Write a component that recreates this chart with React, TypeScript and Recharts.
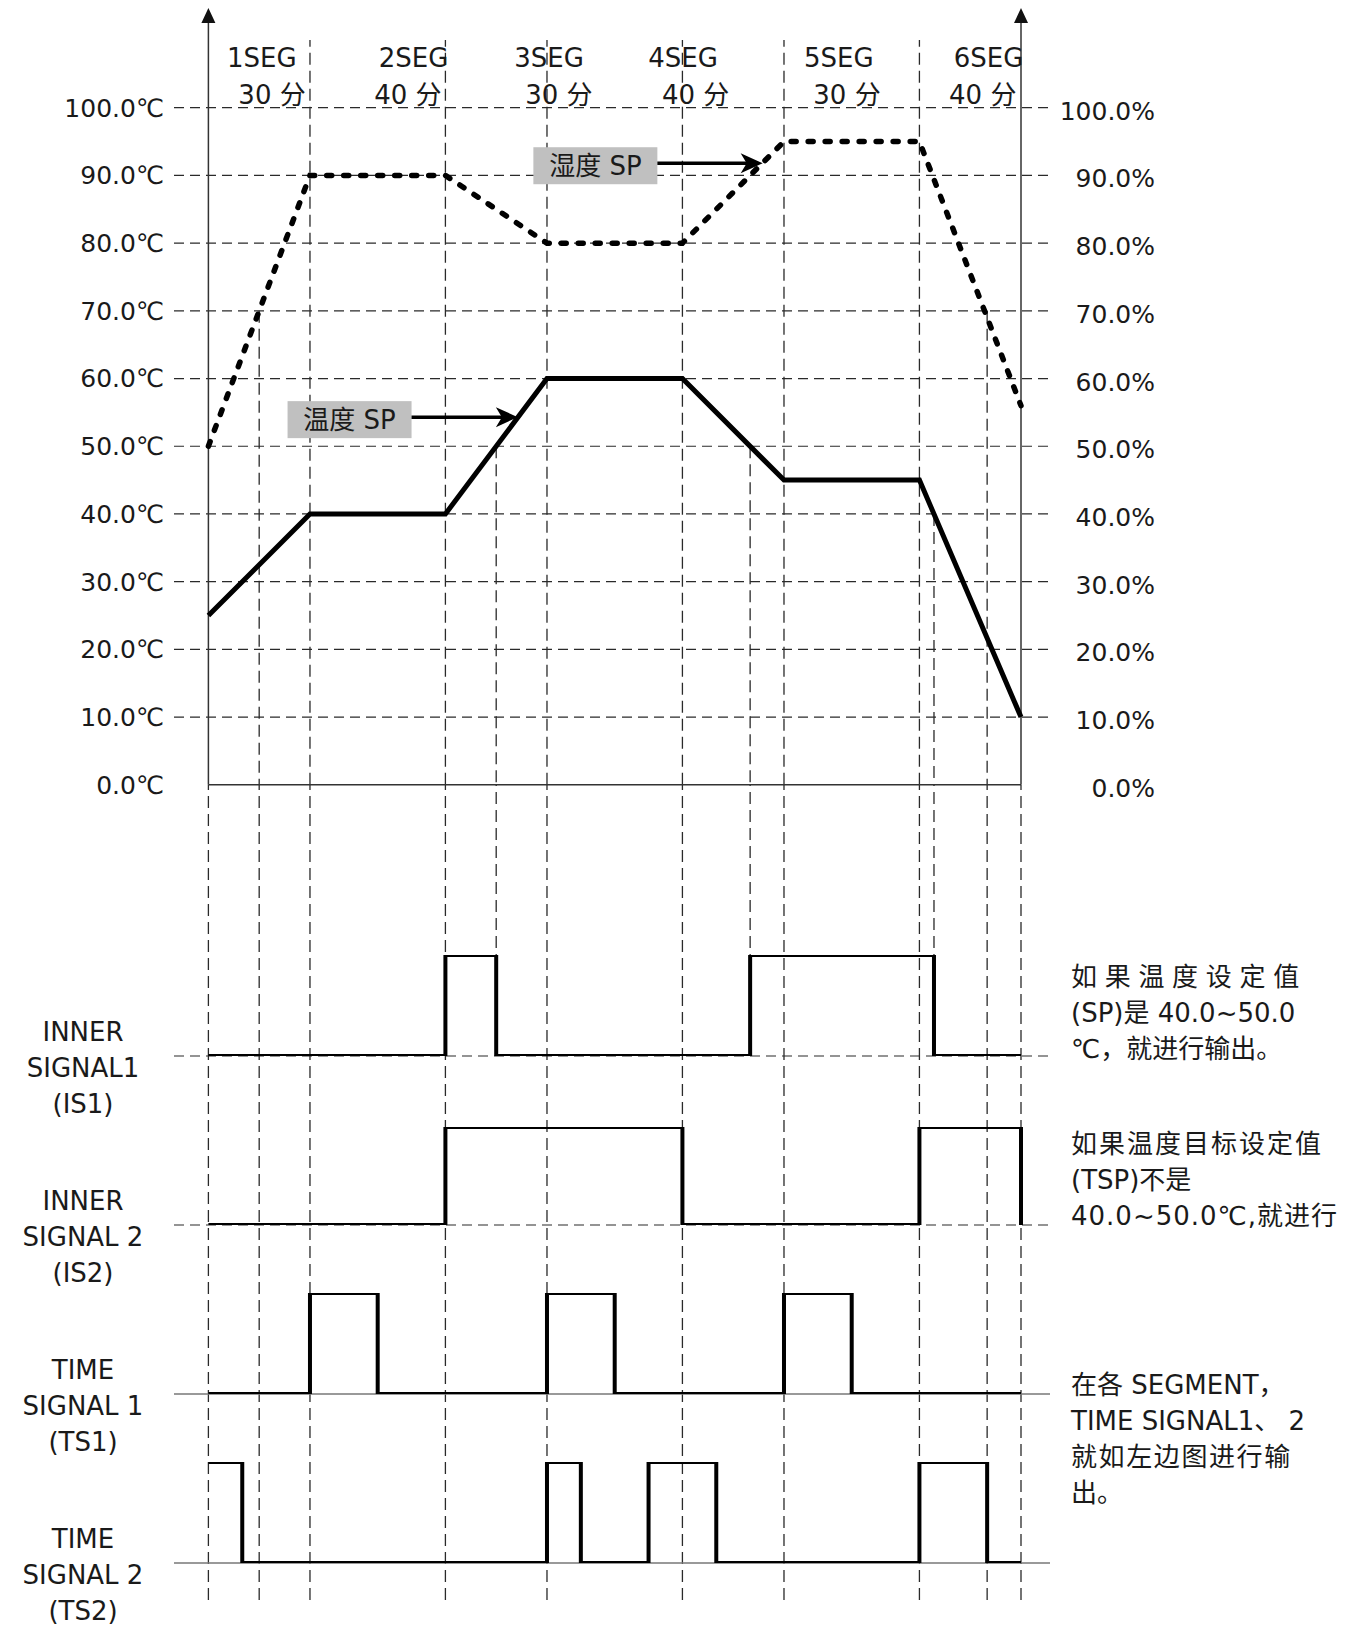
import {
  ComposedChart,
  Line,
  XAxis,
  YAxis,
  ReferenceLine,
  ReferenceDot,
} from 'recharts'

// program profile (minutes from start)
const TIME = [0, 30, 70, 100, 140, 170, 210, 240]
const TEMP_SP = [25, 40, 40, 60, 60, 45, 45, 10]
const HUMI_SP = [50, 90, 90, 80, 80, 95, 95, 56]

const SEG_NAMES = ['1SEG', '2SEG', '3SEG', '4SEG', '5SEG', '6SEG']
const SEG_MINUTES = [30, 40, 30, 40, 30, 40]

const AXIS_TICKS = [0, 10, 20, 30, 40, 50, 60, 70, 80, 90, 100]

// digital signals: time of each edge and the level after it
const IS1_T = [0, 70, 85, 160, 214.3, 240]
const IS1_V = [0, 1, 0, 1, 0, 0]
const IS2_T = [0, 70, 140, 210, 240]
const IS2_V = [0, 1, 0, 1, 0]
const TS1_T = [0, 30, 50, 100, 120, 170, 190, 240]
const TS1_V = [0, 1, 0, 1, 0, 1, 0, 0]
const TS2_T = [0, 10, 100, 110, 130, 150, 210, 230, 240]
const TS2_V = [1, 0, 1, 0, 1, 0, 1, 0, 0]

const SIGNAL_NAMES = [
  ['INNER', 'SIGNAL1', '(IS1)'],
  ['INNER', 'SIGNAL 2', '(IS2)'],
  ['TIME', 'SIGNAL 1', '(TS1)'],
  ['TIME', 'SIGNAL 2', '(TS2)'],
]

const NOTE_1 = ['如果温度设定值', '(SP)是 40.0~50.0', '℃，就进行输出。']
const NOTE_2 = ['如果温度目标设定值', '(TSP)不是', '40.0~50.0℃,就进行']
const NOTE_3 = ['在各 SEGMENT，', 'TIME SIGNAL1、 2', '就如左边图进行输', '出。']

// ---- layout ----
const W = 1358
const FONT = '"DejaVu Sans", "Noto Sans CJK SC", sans-serif'
const INK = '#1a1a1a'
const GRID = '#2a2a2a'
const X_PAD = { left: 34.4, right: 29 }
const TOP_H = 830
const LOW_TOP = 785
const LOW_H = 815

// where the header texts sit (minutes)
const SEG_NAME_AT = [15.8, 60.6, 100.6, 140.2, 186.2, 230.4]
const SEG_TIME_AT = [18.8, 58.9, 103.5, 143.9, 188.6, 228.7]

const ROWS = [
  { id: 'is1', t: IS1_T, v: IS1_V, high: 955, base: 1056, dashed: true },
  { id: 'is2', t: IS2_T, v: IS2_V, high: 1127, base: 1225, dashed: true },
  { id: 'ts1', t: TS1_T, v: TS1_V, high: 1293, base: 1394, dashed: false },
  { id: 'ts2', t: TS2_T, v: TS2_V, high: 1462, base: 1563, dashed: false },
]

const segBounds = SEG_MINUTES.reduce<number[]>((acc, m) => {
  acc.push((acc.length ? acc[acc.length - 1] : 0) + m)
  return acc
}, [])

// secondary markers: where a profile line crosses a threshold
const EVENTS_UPPER = [
  { t: 15, y: 70 },
  { t: 85, y: 50 },
  { t: 160, y: 50 },
  { t: 214.3, y: 40 },
  { t: 230, y: 70 },
]
const FULL_LOWER = [0, 15, ...segBounds, 230, 240]
const IS1_ONLY = [85, 160, 214.3]

const profileData = TIME.map((t, i) => ({ t, temp: TEMP_SP[i], humi: HUMI_SP[i] }))

function AxisArrow(p: any) {
  const x = p.x1
  const yb = Math.max(p.y1, p.y2)
  const yt = Math.min(p.y1, p.y2) - 32
  return (
    <g>
      <line x1={x} y1={yb} x2={x} y2={yt + 10} stroke="#333" strokeWidth={1.5} />
      <polygon points={`${x},${yt} ${x - 7},${yt + 15} ${x + 7},${yt + 15}`} fill="#111" />
    </g>
  )
}

function callout(text: string) {
  return (p: any) => {
    const { x1, y1, x2 } = p
    return (
      <g>
        <rect x={x1 - 124} y={y1 - 16} width={124} height={37} fill="#c0c0c0" />
        <text
          x={x1 - 62}
          y={y1 + 3}
          textAnchor="middle"
          dominantBaseline="central"
          fontSize={26}
          fontFamily={FONT}
          fill={INK}
        >
          {text}
        </text>
        <line x1={x1} y1={y1} x2={x2 - 14} y2={y1} stroke="#000" strokeWidth={3.5} />
        <polygon
          points={`${x2},${y1} ${x2 - 22},${y1 - 10} ${x2 - 16},${y1} ${x2 - 22},${y1 + 10}`}
          fill="#000"
        />
      </g>
    )
  }
}

function headerText(text: string) {
  return (p: any) => (
    <text
      x={p.cx}
      y={p.cy}
      textAnchor="middle"
      dominantBaseline="central"
      fontSize={26}
      fontFamily={FONT}
      fill={INK}
    >
      {text}
    </text>
  )
}

function RightTick(p: any) {
  return (
    <text x={p.x + 105} y={p.y + 3} dy="0.36em" textAnchor="end" fontSize={25} fontFamily={FONT} fill={INK}>
      {`${Number(p.payload.value).toFixed(1)}%`}
    </text>
  )
}

function TextBlock({ lines, top, left, width, align, spacing, lh }: {
  lines: string[]
  top: number
  left: number
  width: number
  align: 'left' | 'center'
  spacing?: number[]
  lh: number
}) {
  return (
    <div
      style={{
        position: 'absolute',
        top,
        left,
        width,
        textAlign: align,
        fontFamily: FONT,
        fontSize: 26,
        lineHeight: `${lh}px`,
        color: INK,
        whiteSpace: 'nowrap',
      }}
    >
      {lines.map((l, i) => (
        <div key={i} style={{ letterSpacing: spacing ? spacing[i] : 0 }}>{l}</div>
      ))}
    </div>
  )
}

export default function App() {
  return (
    <div style={{ position: 'absolute', left: 0, top: 0, width: W, height: 1625, background: '#fff' }}>
      {/* upper: temperature / humidity programme */}
      <div style={{ position: 'absolute', left: 0, top: 0 }}>
        <ComposedChart width={W} height={TOP_H} data={profileData} margin={{ top: 40, right: 0, bottom: TOP_H - 784.8, left: 0 }}>
          <XAxis dataKey="t" type="number" domain={[0, 240]} hide padding={X_PAD} />
          <YAxis
            yAxisId="t"
            orientation="left"
            width={174}
            domain={[0, 110]}
            allowDataOverflow
            ticks={AXIS_TICKS}
            interval={0}
            axisLine={false}
            tickLine={false}
            tickSize={0}
            tickMargin={10}
            tick={{ fill: INK, fontSize: 25, fontFamily: FONT }}
            tickFormatter={(v: number) => `${v.toFixed(1)}℃`}
          />
          <YAxis
            yAxisId="h"
            orientation="right"
            width={308}
            domain={[0, 110]}
            allowDataOverflow
            ticks={AXIS_TICKS}
            interval={0}
            axisLine={false}
            tickLine={false}
            tickSize={0}
            tickMargin={0}
            tick={RightTick}
          />

          {AXIS_TICKS.filter((v) => v > 0).map((v) => (
            <ReferenceLine key={`g${v}`} yAxisId="t" y={v} stroke={GRID} strokeWidth={1.2} strokeDasharray="10 6" />
          ))}
          {segBounds.map((t) => (
            <ReferenceLine key={`s${t}`} yAxisId="t" x={t} stroke={GRID} strokeWidth={1.3} strokeDasharray="12 6" />
          ))}
          {EVENTS_UPPER.map((e) => (
            <ReferenceLine
              key={`e${e.t}`}
              yAxisId="t"
              segment={[{ x: e.t, y: e.y }, { x: e.t, y: 0 }]}
              stroke={GRID}
              strokeWidth={1.3}
              strokeDasharray="12 6"
            />
          ))}

          <ReferenceLine yAxisId="t" segment={[{ x: 0, y: 0 }, { x: 240, y: 0 }]} stroke="#333" strokeWidth={1.5} />
          <ReferenceLine yAxisId="t" segment={[{ x: 0, y: 0 }, { x: 0, y: 110 }]} shape={AxisArrow} />
          <ReferenceLine yAxisId="t" segment={[{ x: 240, y: 0 }, { x: 240, y: 110 }]} shape={AxisArrow} />

          {SEG_NAMES.map((n, i) => (
            <ReferenceDot key={n} yAxisId="t" x={SEG_NAME_AT[i]} y={107.3} r={0} shape={headerText(n)} />
          ))}
          {SEG_MINUTES.map((m, i) => (
            <ReferenceDot key={`m${i}`} yAxisId="t" x={SEG_TIME_AT[i]} y={101.9} r={0} shape={headerText(`${m} 分`)} />
          ))}

          <Line
            yAxisId="h"
            dataKey="humi"
            stroke="#000"
            strokeWidth={5.5}
            strokeDasharray="5 12"
            strokeLinecap="round"
            dot={false}
            isAnimationActive={false}
          />
          <Line
            yAxisId="t"
            dataKey="temp"
            stroke="#000"
            strokeWidth={5}
            dot={false}
            isAnimationActive={false}
          />

          <ReferenceLine yAxisId="t" segment={[{ x: 132.6, y: 91.8 }, { x: 163.7, y: 91.8 }]} shape={callout('湿度 SP')} />
          <ReferenceLine yAxisId="t" segment={[{ x: 60, y: 54.3 }, { x: 91.4, y: 54.3 }]} shape={callout('温度 SP')} />
        </ComposedChart>
      </div>

      {/* lower: signal timing */}
      <div style={{ position: 'absolute', left: 0, top: LOW_TOP }}>
        <ComposedChart width={W} height={LOW_H} margin={{ top: 0, right: 308, bottom: 0, left: 174 }}>
          <XAxis dataKey="t" type="number" domain={[0, 240]} hide padding={X_PAD} />
          {ROWS.map((r) => (
            <YAxis
              key={r.id}
              yAxisId={r.id}
              hide
              domain={[0, 1]}
              allowDataOverflow
              padding={{ top: r.high - LOW_TOP, bottom: LOW_TOP + LOW_H - r.base }}
            />
          ))}

          {FULL_LOWER.map((t) => (
            <ReferenceLine key={`f${t}`} yAxisId="is1" x={t} stroke={GRID} strokeWidth={1.3} strokeDasharray="12 6" />
          ))}
          {IS1_ONLY.map((t) => (
            <ReferenceLine
              key={`o${t}`}
              yAxisId="is1"
              segment={[{ x: t, y: 0 }, { x: t, y: 10 }]}
              ifOverflow="hidden"
              stroke={GRID}
              strokeWidth={1.3}
              strokeDasharray="12 6"
            />
          ))}
          {ROWS.map((r) => (
            <ReferenceLine
              key={`b${r.id}`}
              yAxisId={r.id}
              y={0}
              stroke={r.dashed ? GRID : '#777'}
              strokeWidth={r.dashed ? 1.2 : 1.5}
              strokeDasharray={r.dashed ? '10 6' : undefined}
            />
          ))}

          {ROWS.map((r) => (
            <Line
              key={r.id}
              yAxisId={r.id}
              data={r.t.map((t, i) => ({ t, v: r.v[i] }))}
              dataKey="v"
              type="stepAfter"
              stroke="#000"
              strokeWidth={4}
              dot={false}
              isAnimationActive={false}
            />
          ))}
        </ComposedChart>
      </div>

      {ROWS.map((r, i) => (
        <TextBlock key={r.id} lines={SIGNAL_NAMES[i]} top={r.base - 42} left={0} width={166} align="center" lh={36} />
      ))}
      <TextBlock lines={NOTE_1} top={958.5} left={1071} width={280} align="left" spacing={[7.7, 0, 0]} lh={36.3} />
      <TextBlock lines={NOTE_2} top={1126.4} left={1071} width={280} align="left" spacing={[2, 0, 1]} lh={36} />
      <TextBlock lines={NOTE_3} top={1367} left={1071} width={280} align="left" spacing={[0, 0, 1.6, 0]} lh={36} />
    </div>
  )
}
